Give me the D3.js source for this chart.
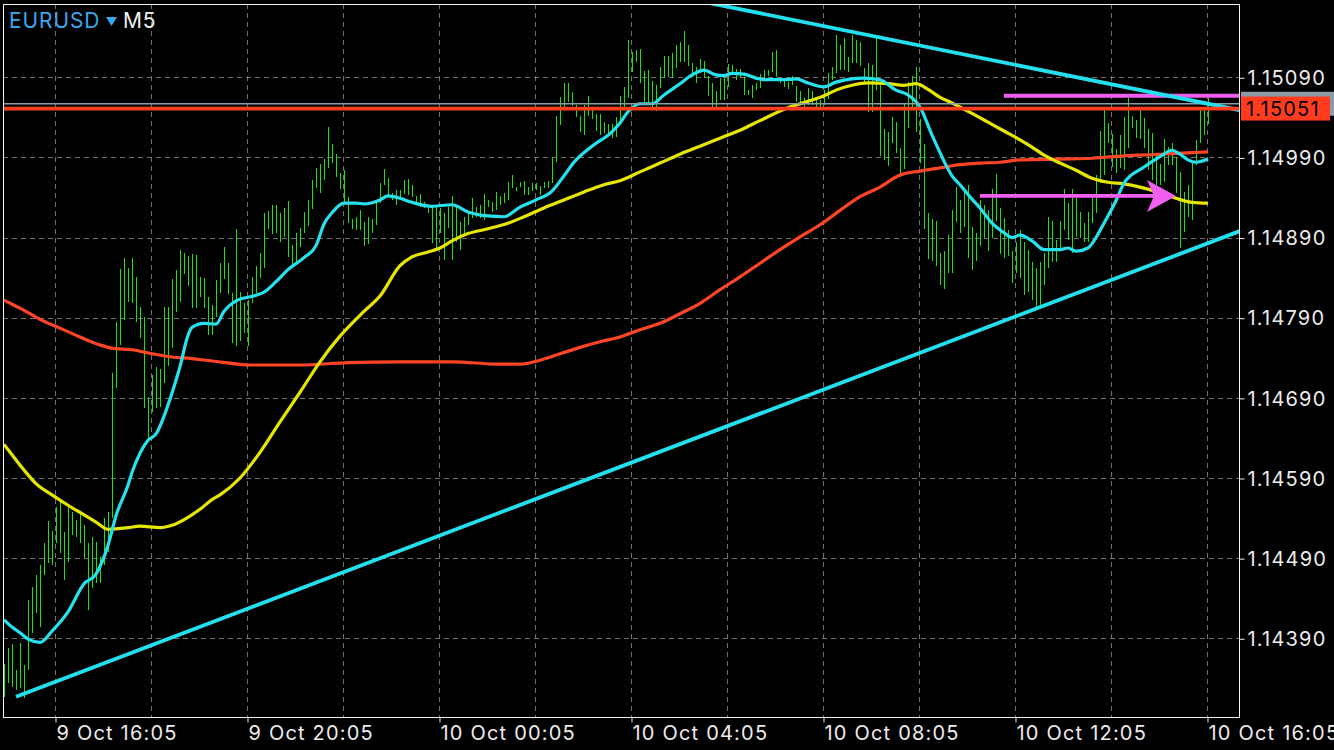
<!DOCTYPE html>
<html><head><meta charset="utf-8">
<script src="https://cdn.jsdelivr.net/npm/d3@7/dist/d3.min.js"></script>
<style>html,body{margin:0;padding:0;background:#000;overflow:hidden}svg{display:block}</style>
</head><body><svg id="c" width="1334" height="750"></svg>
<script>
// ---------------- DATA ----------------
const symbol = "EURUSD", timeframe = "M5";
const highs = [
1.14358,1.14378,1.14383,1.14350,1.14384,1.14357,1.14438,1.14454,1.14469,1.14481,
1.14509,1.14536,1.14524,1.14554,1.14562,1.14523,1.14554,1.14548,1.14538,1.14546,
1.14531,1.14509,1.14516,1.14510,1.14491,1.14540,1.14548,1.14721,1.14785,1.14851,
1.14865,1.14852,1.14865,1.14841,1.14803,1.14791,1.14691,1.14719,1.14729,1.14726,
1.14803,1.14803,1.14838,1.14850,1.14875,1.14871,1.14867,1.14870,1.14868,1.14841,
1.14840,1.14816,1.14806,1.14837,1.14858,1.14878,1.14858,1.14821,1.14901,1.14822,
1.14808,1.14812,1.14841,1.14855,1.14871,1.14921,1.14923,1.14931,1.14931,1.14921,
1.14927,1.14936,1.14881,1.14896,1.14902,1.14922,1.14937,1.14962,1.14977,1.14982,
1.14988,1.15028,1.15007,1.14994,1.14971,1.14974,1.14941,1.14913,1.14916,1.14924,
1.14909,1.14916,1.14913,1.14933,1.14958,1.14976,1.14964,1.14946,1.14949,1.14949,
1.14962,1.14963,1.14956,1.14942,1.14944,1.14934,1.14927,1.14928,1.14928,1.14927,
1.14921,1.14928,1.14942,1.14928,1.14909,1.14916,1.14921,1.14939,1.14928,1.14931,
1.14944,1.14937,1.14934,1.14947,1.14942,1.14946,1.14959,1.14968,1.14953,1.14959,
1.14961,1.14953,1.14958,1.14958,1.14954,1.14959,1.14961,1.14989,1.15042,1.15065,
1.15083,1.15083,1.15072,1.15056,1.15042,1.15056,1.15067,1.15049,1.15044,1.15044,
1.15034,1.15032,1.15032,1.15041,1.15067,1.15078,1.15137,1.15122,1.15124,1.15125,
1.15098,1.15099,1.15085,1.15080,1.15103,1.15117,1.15117,1.15120,1.15130,1.15134,
1.15148,1.15130,1.15108,1.15103,1.15113,1.15110,1.15092,1.15083,1.15073,1.15089,
1.15089,1.15107,1.15105,1.15100,1.15100,1.15090,1.15074,1.15080,1.15083,1.15094,
1.15099,1.15099,1.15122,1.15124,1.15089,1.15087,1.15084,1.15092,1.15079,1.15073,
1.15064,1.15077,1.15073,1.15062,1.15062,1.15074,1.15095,1.15103,1.15143,1.15130,
1.15139,1.15115,1.15143,1.15137,1.15134,1.15102,1.15108,1.15105,1.15139,1.15080,
1.15026,1.15022,1.15041,1.15034,1.15002,1.15058,1.15084,1.15092,1.15103,1.15038,
1.15007,1.14921,1.14913,1.14911,1.14871,1.14873,1.14893,1.14924,1.14953,1.14937,
1.14952,1.14956,1.14903,1.14896,1.14937,1.14931,1.14924,1.14951,1.14969,1.14927,
1.14914,1.14900,1.14873,1.14885,1.14900,1.14885,1.14875,1.14860,1.14852,1.14860,
1.14871,1.14916,1.14911,1.14887,1.14911,1.14951,1.14933,1.14951,1.14939,1.14922,
1.14908,1.14922,1.14939,1.14968,1.15023,1.15049,1.15033,1.15019,1.15001,1.15018,
1.15041,1.15064,1.15042,1.15037,1.15049,1.15039,1.15026,1.15021,1.14993,1.14982,
1.15013,1.15003,1.15008,1.14991,1.14972,1.14947,1.14956,1.14984,1.15012,1.15049,
1.15049,1.15064];
const lows = [
1.14317,1.14334,1.14329,1.14325,1.14328,1.14315,1.14350,1.14397,1.14422,1.14404,
1.14469,1.14484,1.14481,1.14509,1.14496,1.14463,1.14485,1.14519,1.14516,1.14509,
1.14490,1.14425,1.14453,1.14459,1.14459,1.14481,1.14498,1.14540,1.14702,1.14756,
1.14787,1.14810,1.14808,1.14785,1.14765,1.14677,1.14640,1.14672,1.14677,1.14679,
1.14709,1.14730,1.14752,1.14797,1.14810,1.14845,1.14830,1.14802,1.14802,1.14816,
1.14802,1.14768,1.14768,1.14791,1.14821,1.14838,1.14820,1.14758,1.14755,1.14761,
1.14771,1.14755,1.14808,1.14821,1.14840,1.14852,1.14901,1.14895,1.14896,1.14885,
1.14891,1.14866,1.14855,1.14860,1.14878,1.14896,1.14905,1.14926,1.14952,1.14946,
1.14962,1.14977,1.14983,1.14966,1.14951,1.14933,1.14908,1.14901,1.14900,1.14900,
1.14880,1.14882,1.14896,1.14906,1.14933,1.14956,1.14943,1.14937,1.14931,1.14938,
1.14944,1.14943,1.14941,1.14934,1.14928,1.14927,1.14921,1.14883,1.14877,1.14896,
1.14862,1.14902,1.14862,1.14885,1.14875,1.14893,1.14906,1.14914,1.14916,1.14914,
1.14912,1.14928,1.14922,1.14924,1.14931,1.14933,1.14937,1.14952,1.14948,1.14953,
1.14943,1.14943,1.14948,1.14949,1.14943,1.14952,1.14952,1.14958,1.14984,1.15031,
1.15053,1.15059,1.15054,1.15041,1.15022,1.15018,1.15042,1.15038,1.15023,1.15018,
1.15021,1.15017,1.15014,1.15016,1.15037,1.15049,1.15064,1.15097,1.15109,1.15083,
1.15059,1.15056,1.15053,1.15048,1.15077,1.15089,1.15090,1.15089,1.15102,1.15109,
1.15109,1.15104,1.15090,1.15083,1.15095,1.15089,1.15067,1.15053,1.15053,1.15062,
1.15062,1.15078,1.15094,1.15087,1.15089,1.15068,1.15068,1.15064,1.15074,1.15077,
1.15085,1.15092,1.15097,1.15090,1.15083,1.15078,1.15075,1.15080,1.15059,1.15056,
1.15053,1.15056,1.15056,1.15052,1.15052,1.15056,1.15063,1.15087,1.15095,1.15099,
1.15099,1.15097,1.15108,1.15108,1.15104,1.15084,1.15047,1.15047,1.15074,1.14992,
1.14987,1.14979,1.15008,1.14996,1.14966,1.14976,1.15027,1.15049,1.15022,1.14983,
1.14901,1.14863,1.14861,1.14855,1.14831,1.14826,1.14846,1.14846,1.14909,1.14896,
1.14903,1.14865,1.14850,1.14861,1.14880,1.14890,1.14873,1.14890,1.14911,1.14870,
1.14865,1.14867,1.14833,1.14846,1.14840,1.14818,1.14822,1.14812,1.14800,1.14806,
1.14831,1.14852,1.14860,1.14860,1.14875,1.14900,1.14887,1.14871,1.14891,1.14890,
1.14885,1.14885,1.14908,1.14921,1.14958,1.14968,1.15008,1.14978,1.14971,1.14977,
1.14974,1.15002,1.15027,1.15014,1.15013,1.15002,1.14974,1.14962,1.14956,1.14956,
1.14959,1.14981,1.14981,1.14946,1.14877,1.14897,1.14916,1.14912,1.14981,1.15008,
1.15018,1.15032];

// moving averages: [bar index, price]
const maFast = [[0,1.14413],[2,1.14404],[4,1.14397],[6,1.14389],[9,1.14385],[12,1.14399],[16,1.14423],[20,1.14458],[23,1.14470],[26,1.14506],[28,1.14543],[31,1.14581],[32,1.14597],[34,1.14621],[36,1.14637],[38,1.14645],[41,1.14681],[43,1.14712],[44,1.14729],[46,1.14768],[47,1.14778],[50,1.14783],[53,1.14782],[55,1.14798],[58,1.14811],[63,1.14818],[65,1.14822],[68,1.14835],[71,1.14850],[75,1.14865],[78,1.14880],[80,1.14907],[82,1.14921],[85,1.14933],[88,1.14933],[90,1.14932],[94,1.14937],[96,1.14942],[99,1.14939],[102,1.14934],[107,1.14929],[112,1.14931],[116,1.14922],[121,1.14917],[125,1.14916],[129,1.14928],[133,1.14937],[137,1.14948],[140,1.14967],[142,1.14981],[147,1.15004],[152,1.15022],[154,1.15033],[156,1.15047],[159,1.15057],[162,1.15057],[165,1.15068],[169,1.15082],[172,1.15093],[175,1.15099],[178,1.15093],[180,1.15092],[182,1.15095],[185,1.15094],[188,1.15089],[190,1.15087],[195,1.15087],[198,1.15088],[201,1.15083],[205,1.15078],[208,1.15084],[215,1.15089],[219,1.15087],[223,1.15074],[226,1.15068],[229,1.15053],[232,1.15018],[234,1.14996],[237,1.14967],[239,1.14956],[242,1.14938],[244,1.14927],[247,1.14908],[250,1.14896],[252,1.14890],[254,1.14893],[257,1.14886],[260,1.14875],[264,1.14875],[266,1.14877],[268,1.14873],[271,1.14877],[273,1.14890],[275,1.14908],[278,1.14936],[280,1.14958],[285,1.14978],[289,1.14991],[292,1.14999],[294,1.14994],[296,1.14987],[298,1.14984],[301,1.14988]];
const maMid = [[0,1.14632],[2,1.14619],[5,1.14600],[8,1.14583],[12,1.14569],[16,1.14556],[20,1.14544],[23,1.14535],[26,1.14526],[31,1.14528],[34,1.14530],[39,1.14528],[42,1.14531],[46,1.14541],[49,1.14551],[52,1.14563],[54,1.14569],[59,1.14590],[64,1.14622],[69,1.14660],[74,1.14697],[79,1.14735],[84,1.14767],[90,1.14798],[94,1.14817],[99,1.14855],[102,1.14866],[106,1.14872],[109,1.14877],[112,1.14886],[116,1.14895],[121,1.14901],[126,1.14908],[130,1.14916],[135,1.14927],[140,1.14937],[145,1.14947],[150,1.14956],[154,1.14961],[159,1.14972],[164,1.14983],[169,1.14994],[174,1.15004],[179,1.15014],[184,1.15024],[189,1.15036],[196,1.15052],[201,1.15060],[205,1.15067],[208,1.15074],[212,1.15080],[216,1.15083],[221,1.15082],[225,1.15080],[228,1.15082],[231,1.15075],[234,1.15065],[237,1.15058],[242,1.15045],[246,1.15034],[250,1.15023],[254,1.15012],[257,1.15003],[260,1.14993],[264,1.14983],[268,1.14974],[272,1.14964],[276,1.14959],[280,1.14957],[284,1.14953],[289,1.14946],[293,1.14939],[297,1.14934],[301,1.14933]];
const maSlow = [[0,1.14812],[4,1.14802],[9,1.14788],[14,1.14777],[19,1.14766],[24,1.14756],[27,1.14752],[32,1.14750],[37,1.14745],[42,1.14741],[47,1.14739],[52,1.14736],[62,1.14731],[74,1.14731],[86,1.14734],[99,1.14735],[112,1.14735],[124,1.14732],[129,1.14732],[134,1.14737],[139,1.14745],[144,1.14753],[149,1.14760],[154,1.14766],[159,1.14775],[164,1.14783],[169,1.14795],[174,1.14808],[179,1.14825],[184,1.14841],[189,1.14858],[194,1.14875],[199,1.14891],[204,1.14906],[209,1.14924],[214,1.14941],[219,1.14953],[224,1.14968],[229,1.14973],[234,1.14977],[239,1.14981],[244,1.14983],[249,1.14984],[254,1.14987],[264,1.14988],[272,1.14989],[280,1.14992],[289,1.14994],[297,1.14996],[301,1.14997]];

// drawn objects
const trendLower = [[3,1.14317],[301,1.14883]];
const trendUpper = [[179,1.15180],[301,1.15057]];
const hLine = {fromBar:250, price:1.15067};
const arrow = {fromBar:244, toBar:293, price:1.14942};
const bid = 1.15051, ask = 1.15057;

// axes
const priceTicks = [1.14390,1.14490,1.14590,1.14690,1.14790,1.14890,1.14990,1.15090];
const timeTickBars = [13,61,109,157,205,253,301];
const timeTickLabels = ["9 Oct 16:05","9 Oct 20:05","10 Oct 00:05","10 Oct 04:05","10 Oct 08:05","10 Oct 12:05","10 Oct 16:05"];
const gridBars = [13,37,61,85,109,133,157,181,205,229,253,277,301];

// ---------------- DRAW ----------------
const W=1334, H=750, L=3, R=1239, T=4, B=717;
const FONT = "Inter, 'Noto Sans', sans-serif";
const svg = d3.select("#c");
svg.append("rect").attr("width",W).attr("height",H).attr("fill","#000");

const x = d3.scaleLinear().domain([0, highs.length-1]).range([4, 1208]);
const y = d3.scaleLinear().domain([1.14390, 1.15090]).range([638.3, 77.3]);
const px = v => Math.round(v) + 0.5;

svg.append("defs").append("clipPath").attr("id","plot")
  .append("rect").attr("x",L+1).attr("y",T+1).attr("width",R-L-1).attr("height",B-T-1);
const g = svg.append("g").attr("clip-path","url(#plot)");

// grid
const GRID = "#727272";
g.selectAll(".hg").data(priceTicks).join("line")
  .attr("x1",L).attr("x2",R).attr("y1",d=>px(y(d))).attr("y2",d=>px(y(d)))
  .attr("stroke",GRID).attr("stroke-width",1).attr("stroke-dasharray","5,4");
g.selectAll(".vg").data(gridBars).join("line")
  .attr("x1",d=>px(x(d))-1).attr("x2",d=>px(x(d))-1).attr("y1",T).attr("y2",B)
  .attr("stroke",GRID).attr("stroke-width",1).attr("stroke-dasharray","5,4");

// bars
g.selectAll(".bar").data(highs).join("line")
  .attr("x1",(d,i)=>px(x(i))).attr("x2",(d,i)=>px(x(i)))
  .attr("y1",d=>y(d)).attr("y2",(d,i)=>y(lows[i]))
  .attr("stroke","#14e614").attr("stroke-width",1).attr("shape-rendering","crispEdges");

// moving averages
const ln = d3.line().x(d=>x(d[0])).y(d=>y(d[1])).curve(d3.curveMonotoneX);
g.append("path").attr("d",ln(maSlow)).attr("fill","none").attr("stroke","#ff4524").attr("stroke-width",3.2);
g.append("path").attr("d",ln(maMid)).attr("fill","none").attr("stroke","#e6e600").attr("stroke-width",3.2);
g.append("path").attr("d",ln(maFast)).attr("fill","none").attr("stroke","#26e2ee").attr("stroke-width",3.2);

// ask / bid lines
g.append("line").attr("x1",L).attr("x2",R).attr("y1",y(ask)).attr("y2",y(ask))
  .attr("stroke","#8c9ba6").attr("stroke-width",1.3);

// horizontal magenta
g.append("line").attr("x1",x(hLine.fromBar)).attr("x2",R).attr("y1",y(hLine.price)).attr("y2",y(hLine.price))
  .attr("stroke","#f05ff0").attr("stroke-width",3.8);

// trend lines (rays)
function ray(p){
  const s = d3.scaleLinear().domain([p[0][0],p[1][0]]).range([p[0][1],p[1][1]]);
  return s;
}
const lo = ray(trendLower);
g.append("line").attr("x1",x(trendLower[0][0])).attr("y1",y(trendLower[0][1]))
  .attr("x2",x(320)).attr("y2",y(lo(320))).attr("stroke","#22e0ee").attr("stroke-width",3.8);
const up = ray(trendUpper);
g.append("line").attr("x1",x(140)).attr("y1",y(up(140)))
  .attr("x2",x(320)).attr("y2",y(up(320))).attr("stroke","#22e0ee").attr("stroke-width",3.8);

// bid line
g.append("line").attr("x1",L).attr("x2",R).attr("y1",y(bid)).attr("y2",y(bid))
  .attr("stroke","#ff3c1e").attr("stroke-width",3.8);

// arrow
const ay = y(arrow.price), ax0 = x(arrow.fromBar), ax1 = x(arrow.toBar);
g.append("line").attr("x1",ax0).attr("x2",ax1-8).attr("y1",ay).attr("y2",ay)
  .attr("stroke","#f05ff0").attr("stroke-width",3.8);
g.append("path").attr("d",`M${ax1},${ay} L${ax1-29},${ay-16} L${ax1-22},${ay} L${ax1-29},${ay+16} Z`)
  .attr("fill","#f05ff0");

// frame
svg.append("rect").attr("x",L+0.5).attr("y",T+0.5).attr("width",R-L).attr("height",B-T)
  .attr("fill","none").attr("stroke","#f2f2f2").attr("stroke-width",1);

// price axis
const yAxis = d3.axisRight(y).tickValues(priceTicks).tickSize(5).tickPadding(3)
  .tickFormat(d3.format(".5f"));
const ya = svg.append("g").attr("transform",`translate(${R+0.5},0)`).call(yAxis);
ya.select(".domain").remove();
ya.selectAll(".tick line").attr("stroke","#f2f2f2").attr("transform","translate(0,0.5)");
ya.selectAll(".tick text").attr("fill","#ececec").attr("dy","0.36em")
  .style("font-family",FONT).style("font-size","20px").style("letter-spacing","1.2px");

// ask & bid labels
svg.append("rect").attr("x",R+2).attr("y",y(ask)-12).attr("width",W-R-2).attr("height",24).attr("fill","#8c9ba6");
svg.append("rect").attr("x",R+2).attr("y",y(bid)-12).attr("width",89).attr("height",24).attr("fill","#ff3c1e");
svg.append("text").attr("x",R+7).attr("y",y(bid)).attr("dy","0.36em").text(d3.format(".5f")(bid))
  .attr("fill","#000").style("font-family",FONT).style("font-size","20px").style("letter-spacing","1.2px");

// time axis
const xAxis = d3.axisBottom(x).tickValues(timeTickBars).tickSize(5).tickPadding(3)
  .tickFormat((d,i)=>timeTickLabels[i]);
const xa = svg.append("g").attr("transform",`translate(-0.5,${B+0.5})`).call(xAxis);
xa.select(".domain").remove();
xa.selectAll(".tick line").attr("stroke","#f2f2f2");
xa.selectAll(".tick text").attr("fill","#ececec").attr("text-anchor","start").attr("x",0.5)
  .style("font-family",FONT).style("font-size","20px").style("letter-spacing","1.2px");

// title
const tt = svg.append("text").attr("x",9).attr("y",28).style("font-family",FONT).style("font-size","21px");
tt.append("tspan").text(symbol).attr("fill","#3aa8ee").style("letter-spacing","0.9px");
svg.append("path").attr("d","M106,17 L117,17 L111.5,26 Z").attr("fill","#3aa8ee");
svg.append("text").attr("x",123).attr("y",28).text(timeframe).attr("fill","#f0f0f0")
  .style("font-family",FONT).style("font-size","21px").style("letter-spacing","0.9px");
</script></body></html>
